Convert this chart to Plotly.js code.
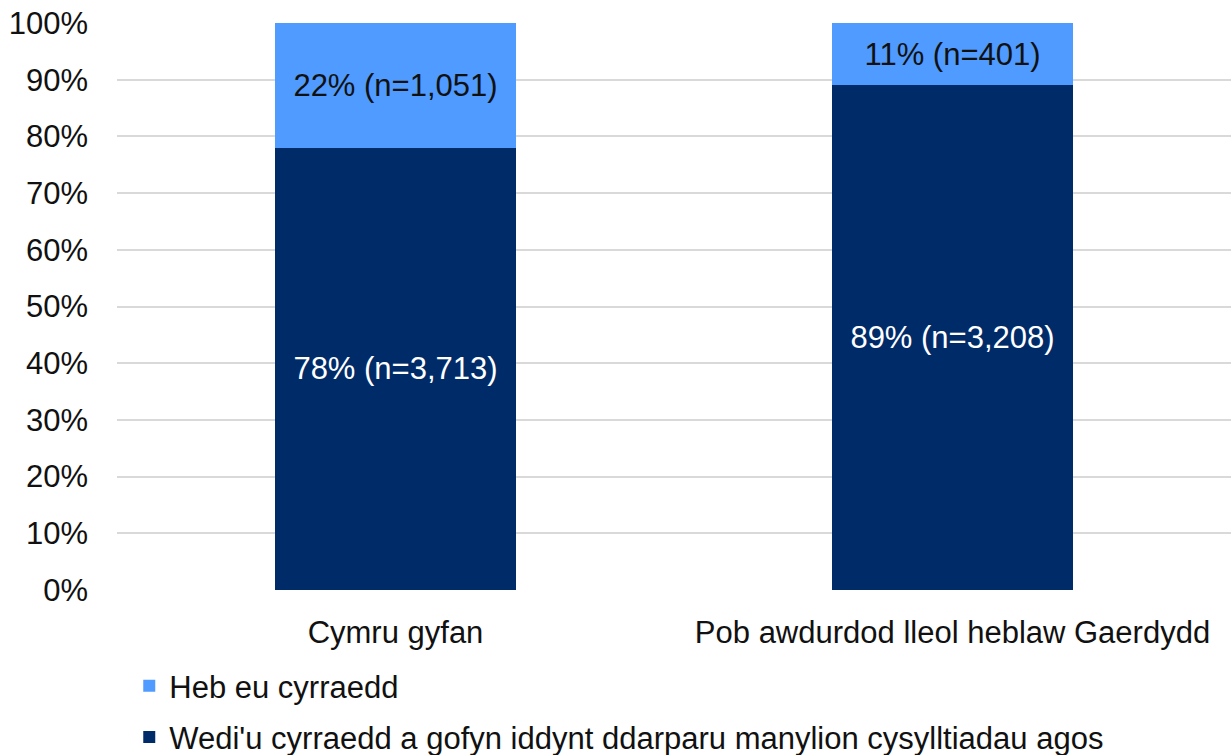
<!DOCTYPE html>
<html>
<head>
<meta charset="utf-8">
<script src="https://cdn.plot.ly/plotly-3.0.1.min.js"></script>
<style>html,body{margin:0;padding:0;background:#fff;}#chart{width:1231px;height:755px;}</style>
</head>
<body>
<div id="chart"></div>
<script>
const categories = ["Cymru gyfan", "Pob awdurdod lleol heblaw Gaerdydd"];
const reachedName = "Wedi'u cyrraedd a gofyn iddynt ddarparu manylion cysylltiadau agos";
const notReachedName = "Heb eu cyrraedd";
const reachedPct = [78, 89];
const reachedN = ["3,713", "3,208"];
const notReachedPct = [22, 11];
const notReachedN = ["1,051", "401"];
const yTicks = [0, 10, 20, 30, 40, 50, 60, 70, 80, 90, 100];

const fontFam = "Liberation Sans, Arial, sans-serif";
const fs = 31;

const traces = [
  {
    type: 'bar', name: reachedName, x: categories, y: reachedPct,
    text: reachedPct.map((v, i) => v + '% (n=' + reachedN[i] + ')'),
    textposition: 'inside', insidetextanchor: 'middle', textangle: 0,
    constraintext: 'none',
    textfont: {family: fontFam, size: fs, color: '#ffffff'},
    marker: {color: '#002B69'}, hoverinfo: 'none',
    legendgroup: 'a', legendrank: 2
  },
  {
    type: 'bar', name: notReachedName, x: categories, y: notReachedPct,
    text: notReachedPct.map((v, i) => v + '% (n=' + notReachedN[i] + ')'),
    textposition: 'inside', insidetextanchor: 'middle', textangle: 0,
    constraintext: 'none',
    textfont: {family: fontFam, size: fs, color: '#111111'},
    marker: {color: '#4F9BFF'}, hoverinfo: 'none',
    legendgroup: 'b', legendrank: 1
  }
];

const layout = {
  width: 1231, height: 755,
  margin: {l: 117, r: 0, t: 23, b: 165, autoexpand: false},
  paper_bgcolor: '#ffffff', plot_bgcolor: '#ffffff',
  barmode: 'stack', bargap: 0.566,
  font: {family: fontFam, size: fs, color: '#111111'},
  xaxis: {
    showgrid: false, zeroline: false, showline: false, tickangle: 0,
    ticks: '', ticklabelstandoff: 21, automargin: false,
    tickfont: {family: fontFam, size: fs, color: '#111111'}
  },
  yaxis: {
    range: [0, 100], tickvals: yTicks, ticktext: yTicks.map(v => v + '%'),
    showgrid: true, gridcolor: '#d9d9d9', gridwidth: 2, automargin: false,
    zeroline: false, showline: false, ticks: '', ticklabelstandoff: 28,
    tickfont: {family: fontFam, size: fs, color: '#111111'},
    fixedrange: true
  },
  showlegend: true,
  legend: {
    orientation: 'v', traceorder: 'grouped', tracegroupgap: 8,
    xref: 'container', yref: 'container', x: 0.105, y: 0.127,
    xanchor: 'left', yanchor: 'top',
    font: {family: fontFam, size: fs, color: '#111111'},
    itemwidth: 30, bgcolor: 'rgba(0,0,0,0)'
  }
};

Plotly.newPlot('chart', traces, layout, {displayModeBar: false, staticPlot: true});
</script>
</body>
</html>
